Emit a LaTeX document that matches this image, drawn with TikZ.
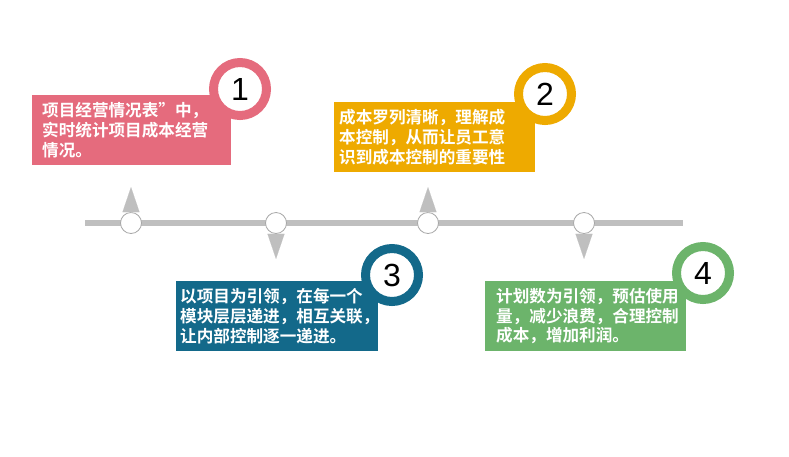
\documentclass[tikz,border=0pt]{standalone}
\usepackage{fontspec}
\setmainfont{Liberation Sans}
\newfontfamily\cjk{Noto Sans CJK SC Bold}
\usetikzlibrary{arrows.meta, positioning}
\definecolor{cardpink}{HTML}{E56B7D}
\definecolor{cardgold}{HTML}{EEAA00}
\definecolor{cardteal}{HTML}{13698A}
\definecolor{cardgreen}{HTML}{6CB46B}
\definecolor{linegray}{HTML}{BFBFBF}
\definecolor{dotgray}{HTML}{A8A8A8}
\tikzset{
    timeline/.style={draw=linegray, line width=6pt},
    dot/.style={circle, draw=dotgray, fill=white, line width=0.8pt, minimum size=21pt, inner sep=0pt},
    pointer/.style={-{Triangle[width=17pt, length=25pt]}, draw=linegray, line width=0.1pt},
    card/.style={rectangle, fill=#1, anchor=north west, minimum height=70pt, align=left,
                 inner ysep=0pt, font=\cjk\fontsize{16.6pt}{19.6pt}\selectfont, text=white},
    ring/.style={circle, draw=#1, fill=white, line width=9pt, minimum size=53pt, inner sep=0pt,
                 font=\fontsize{32pt}{32pt}\selectfont, text=black},
}

\begin{document}
\begin{tikzpicture}[x=1pt, y=-1pt]
    \useasboundingbox (0,0) rectangle (789,456);

    % main time axis
    \coordinate (tl_start) at (85,223);
    \coordinate (tl_end) at (683,223);
    \draw[timeline] (tl_start) -- (tl_end);

    \node[dot] (dot1) at (131,223) {};
    \node[dot] (dot2) at (276,223) {};
    \node[dot] (dot3) at (428,223) {};
    \node[dot] (dot4) at (584,223) {};

    \draw[pointer] (dot1.north) -- ++(0,-25);
    \draw[pointer] (dot3.north) -- ++(0,-25);
    \draw[pointer] (dot2.south) -- ++(0,25);
    \draw[pointer] (dot4.south) -- ++(0,25);

    % text cards with numbered rings
    \node[card=cardpink, text width=179pt, inner xsep=10pt] (card1) at (32,95)
        {项目经营情况表”中，\\实时统计项目成本经营\\情况。};
    \node[ring=cardpink] (num1) at (240,89) {1};

    \node[card=cardgold, text width=191pt, inner xsep=5pt] (card2) at (334,102)
        {成本罗列清晰，理解成\\本控制，从而让员工意\\识到成本控制的重要性};
    \node[ring=cardgold] (num2) at (545,94) {2};

    \node[card=cardteal, text width=194pt, inner xsep=4pt] (card3) at (176,281)
        {以项目为引领，在每一个\\模块层层递进，相互关联，\\让内部控制逐一递进。};
    \node[ring=cardteal] (num3) at (392,275) {3};

    \node[card=cardgreen, text width=179pt, inner xsep=11pt] (card4) at (485,281)
        {计划数为引领，预估使用\\量，减少浪费，合理控制\\成本，增加利润。};
    \node[ring=cardgreen] (num4) at (703,273) {4};

\end{tikzpicture}
\end{document}
